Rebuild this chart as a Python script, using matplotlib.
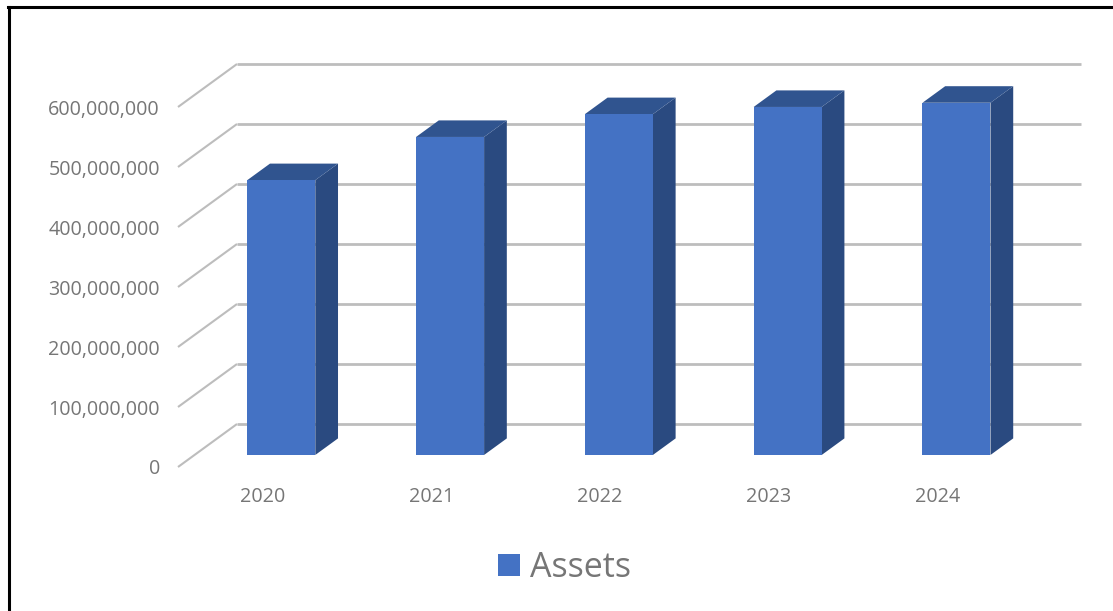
import matplotlib
matplotlib.use("Agg")
import matplotlib.pyplot as plt
from matplotlib.lines import Line2D
from matplotlib.patches import Patch, Polygon

plt.rcParams["font.family"] = ["Open Sans", "DejaVu Sans"]

years = ["2020", "2021", "2022", "2023", "2024"]
assets = [458000000, 530000000, 568000000, 580000000, 587000000]
y_ticks = [0, 100000000, 200000000, 300000000, 400000000, 500000000, 600000000]

W, H = 1113, 611
FRONT = "#4472C4"
SIDE = "#2A4A80"
TOP = "#30548F"
GRID = "#BDBDBD"
TEXT = "#767676"

# oblique 3D: wall offset in data units
DX = 59 / 168.8
DY = 71.67e6
BAR_W = 0.403
BAR_SHIFT = 0.014
BAR_D0, BAR_D1 = 0.28, 0.665


def proj(x, y, d):
    return (x + DX * d, y + DY * d)


fig = plt.figure(figsize=(W / 100, H / 100), dpi=100)
ax = fig.add_axes([178 / W, 1 - 467 / H, 844 / W, 360 / H])
ax.set_xlim(-0.5, 4.5)
ax.set_ylim(0, 600000000)
for s in ax.spines.values():
    s.set_visible(False)

# walls
for v in y_ticks:
    ax.plot([proj(-0.5, v, 0)[0], proj(-0.5, v, 1)[0]],
            [proj(-0.5, v, 0)[1], proj(-0.5, v, 1)[1]],
            color=GRID, lw=1.5, clip_on=False, zorder=1, solid_capstyle="butt")
    ax.plot([proj(-0.5, v, 1)[0], proj(4.5, v, 1)[0]],
            [proj(-0.5, v, 1)[1], proj(4.5, v, 1)[1]],
            color=GRID, lw=2, clip_on=False, zorder=1, solid_capstyle="butt")

# bars
for i, v in enumerate(assets):
    l, r = i + BAR_SHIFT - BAR_W / 2, i + BAR_SHIFT + BAR_W / 2
    front = [proj(l, 0, BAR_D0), proj(r, 0, BAR_D0), proj(r, v, BAR_D0), proj(l, v, BAR_D0)]
    side = [proj(r, 0, BAR_D0), proj(r, 0, BAR_D1), proj(r, v, BAR_D1), proj(r, v, BAR_D0)]
    top = [proj(l, v, BAR_D0), proj(r, v, BAR_D0), proj(r, v, BAR_D1), proj(l, v, BAR_D1)]
    ax.add_patch(Polygon(side, fc=SIDE, ec="none", clip_on=False, zorder=3))
    ax.add_patch(Polygon(top, fc=TOP, ec="none", clip_on=False, zorder=3))
    ax.add_patch(Polygon(front, fc=FRONT, ec="none", clip_on=False, zorder=4))

ax.set_xticks(range(len(years)), years)
ax.set_yticks(y_ticks, [f"{v:,}" for v in y_ticks])
ax.tick_params(axis="both", length=0, labelsize=14.2, labelcolor=TEXT)
ax.tick_params(axis="x", pad=14.5)
ax.tick_params(axis="y", pad=13)

ax.legend(handles=[Patch(fc=FRONT, ec="none", label="Assets")],
          loc="center", bbox_to_anchor=(564.5 / W, 1 - 568 / H), bbox_transform=fig.transFigure,
          frameon=False, fontsize=24.5, labelcolor=TEXT,
          handlelength=0.65, handleheight=0.65, handletextpad=0.27, borderpad=0)

# black frame, top and left only
fig.add_artist(Line2D([9 / W, 9 / W], [0, 1 - 7 / H], color="black", lw=2.2))
fig.add_artist(Line2D([8 / W, 1], [1 - 7 / H, 1 - 7 / H], color="black", lw=2.2))

fig.savefig("out.png", dpi=100)
